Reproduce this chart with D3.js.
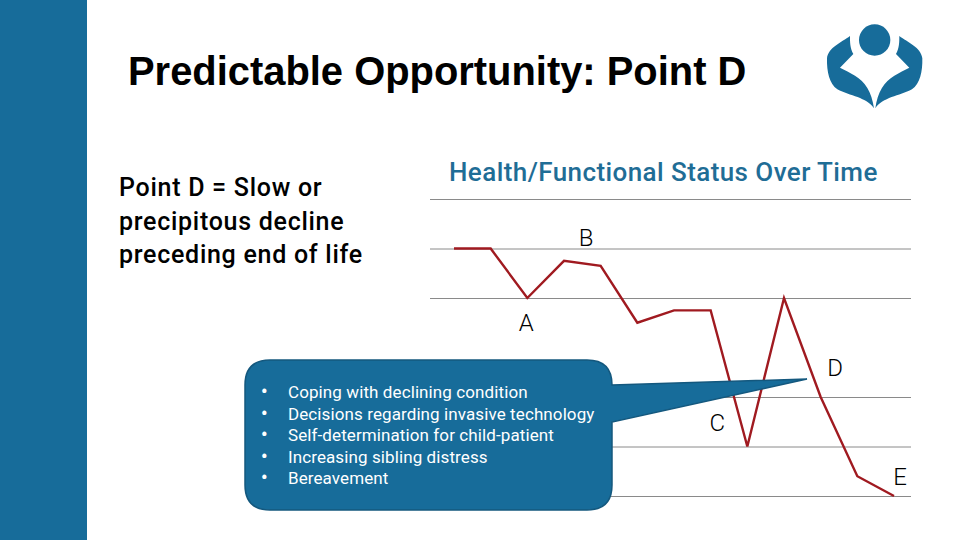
<!DOCTYPE html>
<html>
<head>
<meta charset="utf-8">
<script src="https://cdn.jsdelivr.net/npm/d3@7"></script>
<style>
  html, body { margin: 0; padding: 0; background: #fff; }
  svg { display: block; }
</style>
</head>
<body>
<div id="chart-container"></div>
<script>
// Chart data
const timeSteps = [0, 1, 2, 3, 4, 5, 6, 7, 8, 9, 10, 11, 12];
const statusValues = [5, 5, 4, 4.75, 4.65, 3.5, 3.75, 3.75, 1, 4, 2, 0.4, 0];
const gridLevels = [0, 1, 2, 4, 5, 6];
const pointNames = ["A", "B", "C", "D", "E"];
const pointSteps = [2, 3, 8, 9, 12];

const slideTitle = "Predictable Opportunity: Point D";
const chartTitle = "Health/Functional Status Over Time";
const introLines = ["Point D = Slow or", "precipitous decline", "preceding end of life"];
const bulletLines = [
    "Coping with declining condition",
    "Decisions regarding invasive technology",
    "Self-determination for child-patient",
    "Increasing sibling distress",
    "Bereavement"
];

const blue = "#176c9a";
const bodyFont = "Roboto, sans-serif";

var svg = d3.select("#chart-container")
    .append("svg")
    .attr("width", 960)
    .attr("height", 540);

// Define scales
var x = d3.scaleLinear().domain([0, 12]).range([454, 894]);
var y = d3.scaleLinear().domain([0, 6]).range([496, 199]);

// Left sidebar
svg.append("rect")
    .attr("width", 87)
    .attr("height", 540)
    .style("fill", blue);

// Slide title
svg.append("text")
    .attr("x", 128)
    .attr("y", 85)
    .style("font", "bold 39.9px 'Liberation Sans', sans-serif")
    .style("fill", "#000")
    .text(slideTitle);

// Logo
var logo = svg.append("g")
    .attr("transform", "translate(800, 10) scale(0.3333)")
    .style("fill", blue);

logo.append("circle")
    .attr("cx", 224)
    .attr("cy", 90)
    .attr("r", 47);

const wing = "M150,78 C125,97 85,112 81,145 C80,185 88,222 112,238 C150,258 200,262 222,295 C215,245 195,215 165,197 C150,188 135,181 120,173 L160,132 C150,115 150,95 150,78 Z";
logo.append("path").attr("d", wing);
logo.append("path").attr("d", wing).attr("transform", "translate(448, 0) scale(-1, 1)");

// Chart title
svg.append("text")
    .attr("x", 449)
    .attr("y", 181)
    .style("font", `500 26px ${bodyFont}`)
    .style("letter-spacing", "0.42px")
    .style("fill", "#1f6d96")
    .text(chartTitle);

// Intro text
svg.append("g")
    .selectAll("text")
    .data(introLines)
    .join("text")
    .attr("x", 119)
    .attr("y", (d, i) => 196 + i * 33.6)
    .style("font", `500 25px ${bodyFont}`)
    .style("letter-spacing", "0.72px")
    .style("fill", "#000")
    .text(d => d);

// Gridlines
var grid = svg.append("g")
    .attr("transform", "translate(430, 0)")
    .call(d3.axisLeft(y)
        .tickValues(gridLevels)
        .tickSize(-481)
        .tickFormat("")
    );
grid.select(".domain").remove();
grid.selectAll(".tick line")
    .style("stroke", "#8a8a8a")
    .style("stroke-width", 1);

// Status line
var statusLine = d3.line()
    .x((d, i) => x(timeSteps[i]))
    .y(d => y(d));

svg.append("path")
    .datum(statusValues)
    .attr("fill", "none")
    .style("stroke", "#a01a20")
    .attr("stroke-width", 2.4)
    .attr("stroke-linejoin", "miter")
    .attr("d", statusLine);

// Point letters, offset from the point they name
const letterOffsets = { A: [-1, 33], B: [22, -15], C: [-30, -16], D: [51, 78], E: [6, -11] };

svg.append("g")
    .selectAll("text")
    .data(pointNames)
    .join("text")
    .attr("x", (d, i) => x(pointSteps[i]) + letterOffsets[d][0])
    .attr("y", (d, i) => y(statusValues[pointSteps[i]]) + letterOffsets[d][1])
    .attr("text-anchor", "middle")
    .style("font", `300 24px ${bodyFont}`)
    .style("fill", "#000")
    .text(d => d);

// Callout with its tail pointing at D
svg.append("path")
    .attr("d", "M270,360 H587 Q612,360 612,385 L807,379 L612,422 V485 Q612,510 587,510 H270 Q245,510 245,485 V385 Q245,360 270,360 Z")
    .style("fill", blue)
    .style("stroke", "#14587e")
    .style("stroke-width", 1.5);

var bullets = svg.append("g")
    .selectAll("g")
    .data(bulletLines)
    .join("g")
    .attr("transform", (d, i) => `translate(0, ${398 + i * 21.6})`);

bullets.append("text")
    .attr("x", 261)
    .style("font", `700 18px ${bodyFont}`)
    .style("fill", "#fff")
    .text("•");

bullets.append("text")
    .attr("x", 288)
    .style("font", `400 17px ${bodyFont}`)
    .style("letter-spacing", "0.1px")
    .style("fill", "#fff")
    .text(d => d);
</script>
</body>
</html>
